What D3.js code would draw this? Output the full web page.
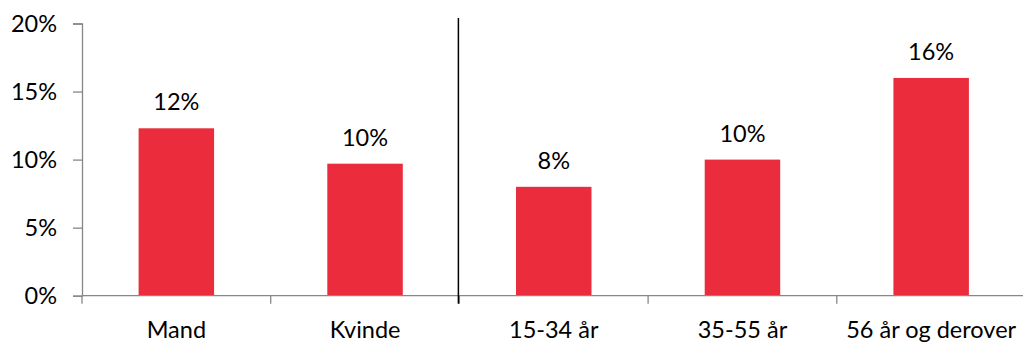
<!DOCTYPE html>
<html>
<head>
<meta charset="utf-8">
<script src="https://cdn.jsdelivr.net/npm/d3@7"></script>
<style>
  html, body { margin: 0; padding: 0; background: #fff; }
  svg { display: block; }
  text { font-family: Lato, "Open Sans", sans-serif; fill: #000; }
</style>
</head>
<body>
<svg id="chart" width="1023" height="342"></svg>
<script>
// Share of respondents, by gender and age group
const categories = ["Mand", "Kvinde", "15-34 år", "35-55 år", "56 år og derover"];
const values = [12.3, 9.7, 8.0, 10.0, 16.0];
const yTicks = [0, 5, 10, 15, 20];
// the gender groups end after this many categories
const groupSplit = 2;

const W = 1023, H = 342;
const margin = { left: 82, top: 23.5, right: -2.5, bottom: 46.3 };

const svg = d3.select("#chart");

const x = d3.scaleBand()
  .domain(categories)
  .range([margin.left, W - margin.right])
  .paddingInner(0.6)
  .paddingOuter(0.3);

const y = d3.scaleLinear()
  .domain([0, 20])
  .range([H - margin.bottom, margin.top]);

const axisColor = "#878787";
const fontSize = 23.5;

// bars
svg.append("g")
  .selectAll("rect")
  .data(values)
  .join("rect")
  .attr("x", (d, i) => x(categories[i]))
  .attr("width", x.bandwidth())
  .attr("y", d => y(d))
  .attr("height", d => y(0) - y(d))
  .attr("fill", "#EA2C3C");

// value labels
svg.append("g")
  .selectAll("text")
  .data(values)
  .join("text")
  .attr("x", (d, i) => x(categories[i]) + x.bandwidth() / 2)
  .attr("y", d => y(d) - 18)
  .attr("text-anchor", "middle")
  .attr("font-size", fontSize)
  .text(d => d3.format(".0f")(d) + "%");

// y axis
const yAxis = svg.append("g")
  .attr("transform", `translate(${margin.left},0)`)
  .call(d3.axisLeft(y).tickValues(yTicks).tickFormat(d => d + "%").tickSize(9).tickPadding(16));
yAxis.select(".domain").attr("stroke", axisColor).attr("stroke-width", 1.3);
yAxis.selectAll(".tick line").attr("stroke", axisColor).attr("stroke-width", 1.3);
yAxis.selectAll(".tick text")
  .attr("font-size", fontSize)
  .attr("font-family", "Lato, 'Open Sans', sans-serif")
  .attr("fill", "#000");

// x axis: ticks sit on category boundaries
const step = x.step();
const bounds = d3.range(categories.length + 1).map(i => margin.left + i * step);
const xg = svg.append("g");
xg.append("line")
  .attr("x1", margin.left).attr("x2", W)
  .attr("y1", y(0)).attr("y2", y(0))
  .attr("stroke", axisColor).attr("stroke-width", 1.3);
xg.selectAll("line.tick")
  .data(bounds)
  .join("line")
  .attr("class", "tick")
  .attr("x1", d => d).attr("x2", d => d)
  .attr("y1", y(0)).attr("y2", y(0) + 8)
  .attr("stroke", axisColor).attr("stroke-width", 1.3);
xg.selectAll("text")
  .data(categories)
  .join("text")
  .attr("x", d => x(d) + x.bandwidth() / 2)
  .attr("y", 338)
  .attr("text-anchor", "middle")
  .attr("font-size", fontSize)
  .text(d => d);

// separator between gender and age groups
const sepX = bounds[groupSplit] - 1;
svg.append("line")
  .attr("x1", sepX).attr("x2", sepX)
  .attr("y1", 18).attr("y2", y(0) + 8)
  .attr("stroke", "#000").attr("stroke-width", 1.5);
</script>
</body>
</html>
